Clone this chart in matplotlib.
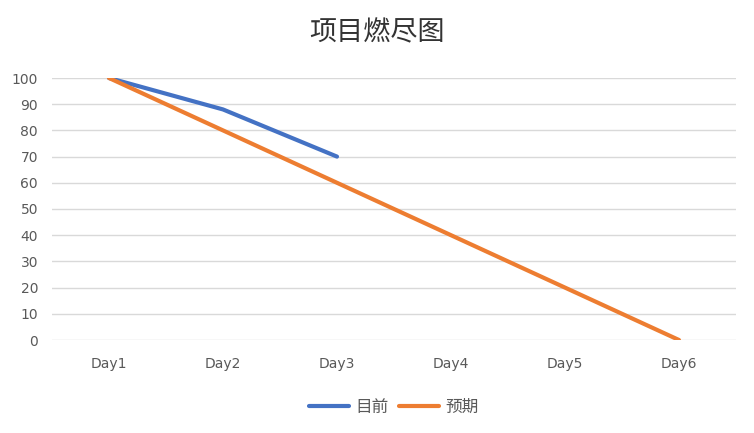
import matplotlib
matplotlib.use('Agg')
import matplotlib.pyplot as plt

plt.rcParams['font.family'] = ['DejaVu Sans', 'Noto Sans CJK SC']

days = ['Day1', 'Day2', 'Day3', 'Day4', 'Day5', 'Day6']
actual = [100, 88, 70]
expected = [100, 80, 60, 40, 20, 0]
yticks = list(range(0, 101, 10))

fig = plt.figure(figsize=(7.54, 4.33), dpi=100)
ax = fig.add_axes([52/754, 1-340/433, (736-52)/754, (340-78)/433])

x = list(range(len(days)))
ax.plot(x[:len(actual)], actual, color='#4472C4', lw=3, solid_capstyle='round', label='目前', zorder=3)
ax.plot(x, expected, color='#ED7D31', lw=3, solid_capstyle='round', label='预期', zorder=3)

ax.set_xlim(-0.5, len(days)-0.5)
ax.set_ylim(0, 100)
ax.set_yticks(yticks)
ax.set_xticks(x)
ax.set_xticklabels(days)
ax.tick_params(length=0, colors='#595959', labelsize=10)
ax.tick_params(axis='x', pad=12)
ax.tick_params(axis='y', pad=10)
ax.grid(axis='y', color='#d9d9d9', lw=1)
ax.set_axisbelow(True)
for s in ax.spines.values():
    s.set_visible(False)

fig.text(0.5, 1-33/433, '项目燃尽图', ha='center', va='center',
         fontsize=19.5, fontweight='medium', color='#333333',
         family=['Noto Sans CJK SC'])

ax.legend(loc='center', bbox_to_anchor=(0.5, -(407-340)/262), ncol=2,
          frameon=False, prop={'family': ['Noto Sans CJK SC'], 'size': 12},
          labelcolor='#595959',
          handlelength=2.4, columnspacing=0.6, handletextpad=0.4)

fig.savefig('out.png', dpi=100)
